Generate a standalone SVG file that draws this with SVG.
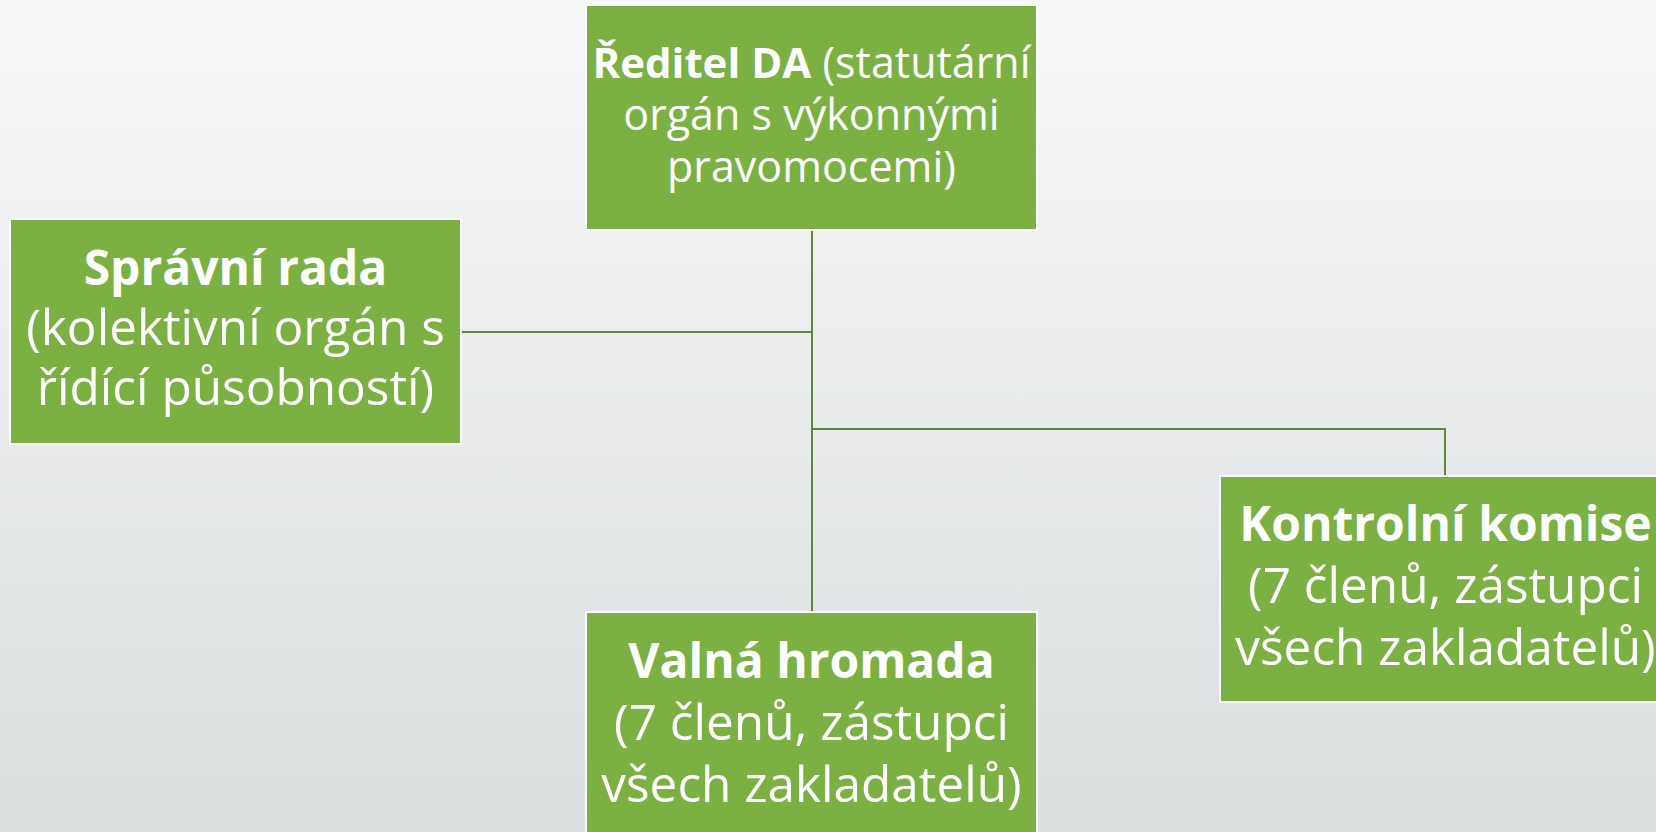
<svg xmlns="http://www.w3.org/2000/svg" width="1656" height="832" viewBox="0 0 1656 832">
<defs>
<linearGradient id="bg" x1="0" y1="0" x2="0" y2="1">
<stop offset="0" stop-color="#f6f7f7"/>
<stop offset="1" stop-color="#dadedf"/>
</linearGradient>
<style>
.box{fill:#7ab142;stroke:#ffffff;stroke-width:2}
.t{font-family:"Open Sans","Liberation Sans",sans-serif;fill:#ffffff;text-anchor:middle;font-variant-ligatures:none}
.big{font-size:49.5px}
.hd{font-size:48px;font-weight:bold}
.sm{font-size:43px}
.b{font-weight:bold;font-size:42px}
.c{fill:none;stroke:#5b8a33;stroke-width:2}
</style>
</defs>
<rect width="1656" height="832" fill="url(#bg)"/>
<g id="connectors">
<path class="c" d="M812 231 V611"/>
<path class="c" d="M462 332 H812"/>
<path class="c" d="M812 429 H1445 V476"/>
</g>
<g id="reditel">
<rect class="box" x="586" y="5" width="451" height="225"/>
<text class="t sm" x="811.5" y="78"><tspan class="b">Ředitel DA</tspan> (statutární</text>
<text class="t sm" x="811.5" y="130">orgán s výkonnými</text>
<text class="t sm" x="811.5" y="182">pravomocemi)</text>
</g>
<g id="spravni-rada">
<rect class="box" x="10" y="219" width="451" height="225"/>
<text class="t hd" x="235.5" y="285">Správní rada</text>
<text class="t big" x="235.5" y="345">(kolektivní orgán s</text>
<text class="t big" x="235.5" y="405">řídící působností)</text>
</g>
<g id="valna-hromada">
<rect class="box" x="586" y="612" width="451" height="226"/>
<text class="t hd" x="811.5" y="678">Valná hromada</text>
<text class="t big" x="811.5" y="740">(7 členů, zástupci</text>
<text class="t big" x="811.5" y="802">všech zakladatelů)</text>
</g>
<g id="kontrolni-komise">
<rect class="box" x="1220" y="476" width="451" height="226"/>
<text class="t hd" x="1445.5" y="541">Kontrolní komise</text>
<text class="t big" x="1445.5" y="603">(7 členů, zástupci</text>
<text class="t big" x="1445.5" y="665">všech zakladatelů)</text>
</g>
</svg>
